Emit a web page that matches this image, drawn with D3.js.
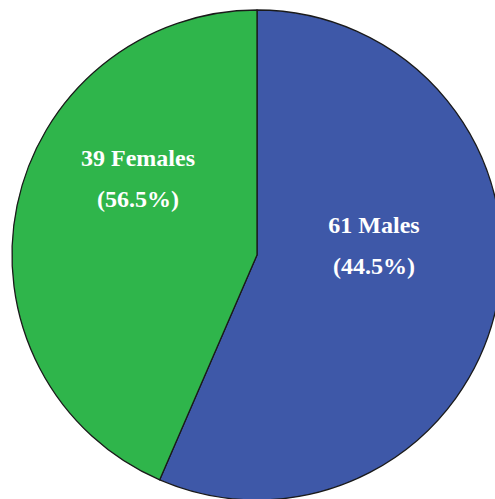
<!DOCTYPE html>
<html>
<head>
<meta charset="utf-8">
<script src="https://cdn.jsdelivr.net/npm/d3@7"></script>
<style>
  body { margin: 0; background: #fff; }
  svg { display: block; }
</style>
</head>
<body>
<div id="canvas"></div>
<script>
"use strict"

/* Data */
let categories = ["Males", "Females"];
let counts = [61, 39];
let percentLabels = ["44.5%", "56.5%"];   // as printed on the chart
let sliceShares = [56.5, 43.5];           // angular share of each slice (%)

/* Drawing config */
let svgWidth = 495;
let svgHeight = 499;
let cx = 257;
let cy = 255;
let radius = 245;

let colorScale = d3.scaleOrdinal()
    .domain(categories)
    .range(["#3e58a8", "#2fb54b"]);

// label offsets from the pie centre (first line baseline)
let labelOffset = {
    Males: [117, -22],
    Females: [-119, -89]
};

let svg = d3.select("#canvas")
    .append("svg")
    .attr("width", svgWidth)
    .attr("height", svgHeight);

let dataset = categories.map((c, i) => ({
    category: c,
    count: counts[i],
    pct: percentLabels[i],
    share: sliceShares[i]
}));

let pie = d3.pie()
    .sort(null)
    .value(d => d.share);

let arc = d3.arc()
    .innerRadius(0)
    .outerRadius(radius);

let g = svg.append("g")
    .attr("transform", "translate(" + cx + "," + cy + ")");

// slices
g.selectAll("path")
    .data(pie(dataset))
    .join("path")
    .attr("d", arc)
    .attr("fill", d => colorScale(d.data.category))
    .attr("stroke", "#1a1a1a")
    .attr("stroke-width", 1.3)
    .attr("stroke-linejoin", "round");

// labels
let labels = g.selectAll("g.label")
    .data(dataset)
    .join("g")
    .attr("class", "label")
    .attr("transform", d => "translate(" + labelOffset[d.category][0] + "," + labelOffset[d.category][1] + ")");

labels.append("text")
    .attr("text-anchor", "middle")
    .attr("fill", "white")
    .style("font-family", "'Liberation Serif', 'Times New Roman', serif")
    .style("font-weight", "bold")
    .style("font-size", "24px")
    .text(d => d.count + " " + d.category);

labels.append("text")
    .attr("y", 41)
    .attr("text-anchor", "middle")
    .attr("fill", "white")
    .style("font-family", "'Liberation Serif', 'Times New Roman', serif")
    .style("font-weight", "bold")
    .style("font-size", "24px")
    .text(d => "(" + d.pct + ")");
</script>
</body>
</html>
